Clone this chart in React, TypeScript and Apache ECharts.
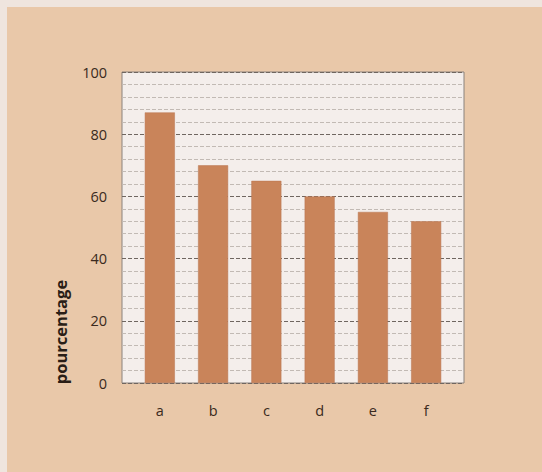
import React, { useEffect, useRef } from "react";
import * as echarts from "echarts";

const categories = ["a", "b", "c", "d", "e", "f"];
const values = [87, 70, 65, 60, 55, 52];
const yTicks = [0, 20, 40, 60, 80, 100];
const yTitle = "pourcentage";

export default function App() {
  const ref = useRef<HTMLDivElement>(null);
  useEffect(() => {
    const chart = echarts.init(ref.current!, null, { renderer: "svg" });
    chart.setOption({
      animation: false,
      backgroundColor: "#e9c8a9",
      graphic: [
        { type: "rect", shape: { x: 0, y: 0, width: 542, height: 7 }, style: { fill: "#efe5de" } },
        { type: "rect", shape: { x: 0, y: 0, width: 7, height: 472 }, style: { fill: "#efe5de" } },
        {
          type: "text",
          x: 60,
          y: 332,
          rotation: Math.PI / 2,
          style: {
            text: yTitle,
            fill: "#2a1e16",
            font: "bold 16.5px 'Open Sans', sans-serif",
            align: "center",
            verticalAlign: "middle",
          },
        },
      ],
      grid: {
        left: 122,
        right: 78,
        top: 72,
        bottom: 89,
        show: true,
        backgroundColor: "#f4eeeb",
        borderColor: "#8a827c",
        borderWidth: 1,
      },
      xAxis: {
        type: "value",
        min: -0.71,
        max: 5.71,
        axisLine: { show: false },
        axisTick: { show: false },
        splitLine: { show: false },
        axisLabel: {
          customValues: categories.map((_, i) => i),
          formatter: (v: number) => categories[Math.round(v)] ?? "",
          margin: 20,
          color: "#3a2a20",
          fontSize: 14.5,
          fontFamily: "'Open Sans', sans-serif",
        },
      },
      yAxis: {
        type: "value",
        min: 0,
        max: 100,
        interval: 20,
        axisLine: { show: false },
        axisTick: { show: false },
        axisLabel: {
          customValues: yTicks,
          margin: 15,
          color: "#3a2a20",
          fontSize: 14.5,
          fontFamily: "'Open Sans', sans-serif",
        },
        splitLine: { show: true, lineStyle: { color: "#6f6660", type: [4, 2], width: 1 } },
        minorTick: { show: false, splitNumber: 5 },
        minorSplitLine: { show: true, lineStyle: { color: "#c2bab4", type: [4, 2], width: 1 } },
      },
      series: [
        {
          type: "bar",
          barWidth: 30,
          data: values.map((v, i) => [i, v]),
          itemStyle: { color: "#c9845a", borderColor: "#b87450", borderWidth: 0.5 },
          z: 3,
        },
      ],
    });
    return () => chart.dispose();
  }, []);
  return <div ref={ref} style={{ position: "fixed", left: 0, top: 0, width: 542, height: 472 }} />;
}
